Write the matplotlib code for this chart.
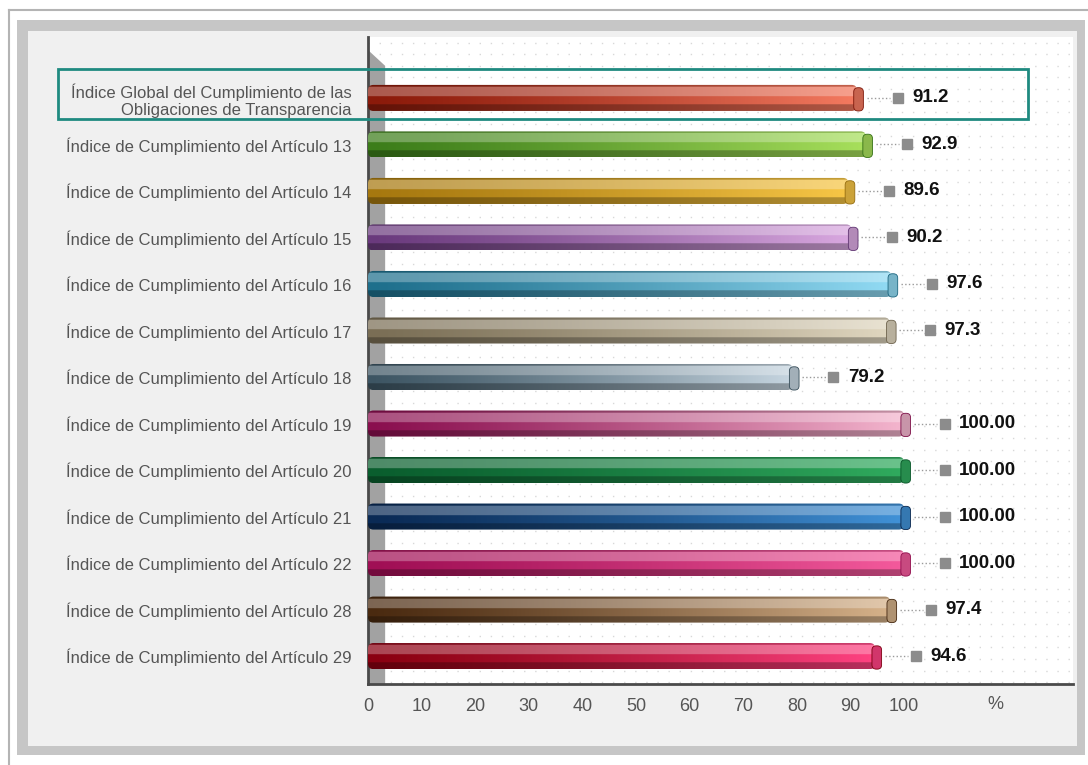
import numpy as np
import matplotlib.pyplot as plt
from matplotlib.patches import Rectangle, FancyBboxPatch, Polygon
from matplotlib.colors import to_rgb

W, H = 1088, 765

categorias = [
    'Índice Global del Cumplimiento de las\nObligaciones de Transparencia',
    'Índice de Cumplimiento del Artículo 13',
    'Índice de Cumplimiento del Artículo 14',
    'Índice de Cumplimiento del Artículo 15',
    'Índice de Cumplimiento del Artículo 16',
    'Índice de Cumplimiento del Artículo 17',
    'Índice de Cumplimiento del Artículo 18',
    'Índice de Cumplimiento del Artículo 19',
    'Índice de Cumplimiento del Artículo 20',
    'Índice de Cumplimiento del Artículo 21',
    'Índice de Cumplimiento del Artículo 22',
    'Índice de Cumplimiento del Artículo 28',
    'Índice de Cumplimiento del Artículo 29',
]
valores = [91.2, 92.9, 89.6, 90.2, 97.6, 97.3, 79.2, 100, 100, 100, 100, 97.4, 94.6]
etiquetas_valor = ['91.2', '92.9', '89.6', '90.2', '97.6', '97.3', '79.2',
                   '100.00', '100.00', '100.00', '100.00', '97.4', '94.6']
colores_oscuros = ['#8b1a0a', '#3c7d1a', '#a6780f', '#6a3a7d', '#1e6f8c', '#7a6e55',
                   '#3d5563', '#8a0f4f', '#0a5e2e', '#0a2a55', '#a00f55', '#4a2a10', '#8a0010']
colores_claros = ['#f47a60', '#a8e05c', '#f7c646', '#d9a8e0', '#92dbf4', '#e0d7c0',
                  '#c6d5e0', '#f4b6ce', '#30ab5e', '#4192d8', '#f45a9c', '#d6b28a', '#ff4282']
xticks = [0, 10, 20, 30, 40, 50, 60, 70, 80, 90, 100]


def fig_box(x0, y0, x1, y1):
    # pixel box (top-down) -> figure fraction
    return x0 / W, 1 - y1 / H, (x1 - x0) / W, (y1 - y0) / H


def bar_image(dark, light, n=256, m=40):
    d = np.array(to_rgb(dark))
    l = np.array(to_rgb(light))
    t = np.linspace(0, 1, n) ** 1.2
    base = d[None, :] + (l - d)[None, :] * t[:, None]
    img = np.repeat(base[None, :, :], m, axis=0)
    fy = np.linspace(0, 1, m)
    for i, f in enumerate(fy):
        if f < 0.1:
            img[i] *= 0.8
        elif f < 0.45:
            img[i] = img[i] + (1 - img[i]) * 0.28
        elif f > 0.75:
            img[i] *= 0.72
    return np.clip(img, 0, 1)


fig = plt.figure(figsize=(W / 100, H / 100), dpi=100)
fig.patch.set_facecolor('white')

# frame layers
fig.add_artist(Rectangle(fig_box(17, 20, 1085, 755)[:2], *fig_box(17, 20, 1085, 755)[2:],
                         transform=fig.transFigure, fc='#c6c6c6', ec='none', zorder=0))
fig.add_artist(Rectangle(fig_box(28, 31, 1077, 746)[:2], *fig_box(28, 31, 1077, 746)[2:],
                         transform=fig.transFigure, fc='#f0f0f0', ec='none', zorder=0))
fig.add_artist(plt.Line2D([9 / W, 1], [1 - 10 / H, 1 - 10 / H], transform=fig.transFigure,
                          color='#b4b4b4', lw=1.5, zorder=0))
fig.add_artist(plt.Line2D([9 / W, 9 / W], [0, 1 - 10 / H], transform=fig.transFigure,
                          color='#b4b4b4', lw=1.5, zorder=0))

ax = fig.add_axes(fig_box(368, 37, 1073, 684))
ax.set_facecolor('white')
ax.set_zorder(1)

y_top, y_bot = -1.31, 12.6
x_max = 131.5
h = 0.56

# left 3D wall
ax.add_patch(Polygon([(0, -1.03), (3.2, -0.69), (3.2, y_bot), (0, y_bot)],
                     closed=True, fc='#a2a2a2', ec='none', zorder=2))

for i, v in enumerate(valores):
    y = i
    img = bar_image(colores_oscuros[i], colores_claros[i])
    im = ax.imshow(img, extent=(0, v, y + h / 2, y - h / 2), aspect='auto',
                   interpolation='bilinear', zorder=3)
    clip = FancyBboxPatch((0, y - h / 2), v, h, boxstyle='round,pad=0,rounding_size=1.0',
                          mutation_aspect=0.115, fc='none', ec='none', transform=ax.transData)
    ax.add_patch(clip)
    im.set_clip_path(clip)
    cap = np.array(to_rgb(colores_claros[i])) * 0.82
    ax.add_patch(FancyBboxPatch((v - 0.6, y - h / 2 + 0.06), 1.8, h - 0.06,
                                boxstyle='round,pad=0,rounding_size=0.8', mutation_aspect=0.115,
                                fc=cap, ec=np.array(to_rgb(colores_oscuros[i])) * 0.9,
                                lw=0.6, zorder=4))
    ax.plot([v + 1.8, v + 6.2], [y, y], ls=':', color='#999999', lw=1, zorder=4)
    ax.plot(v + 7.6, y, 's', ms=7.5, color='#8c8c8c', zorder=4)
    ax.text(v + 10.3, y, etiquetas_valor[i], va='center', ha='left', fontsize=13.5,
            fontweight='bold', family='Liberation Sans', color='#111111', zorder=5)

ax.set_xlim(0, x_max)
ax.set_ylim(y_bot, y_top)

ax.set_xticks(xticks)
ax.set_xticklabels([str(t) for t in xticks])
ax.set_yticks(range(len(categorias)))
ax.set_yticklabels(categorias)
ax.tick_params(axis='x', length=0, pad=10, labelsize=13, labelcolor='#555555')
ax.tick_params(axis='y', length=0, pad=12, labelsize=12, labelcolor='#555555')
for lab in ax.get_xticklabels() + ax.get_yticklabels():
    lab.set_family('Liberation Sans')
ax.text(117, y_bot + 0.25, '%', ha='center', va='top', fontsize=13,
        color='#555555', family='Liberation Sans')

# dotted background grid
ax.set_yticks(np.arange(y_top + 0.12, y_bot, 0.25), minor=True)
ax.tick_params(axis='y', which='minor', length=0)
ax.grid(True, which='minor', axis='y', ls=(0, (1, 7)), color='#d8d8d8', lw=1, zorder=0)
ax.set_axisbelow(True)

for s in ['top', 'right']:
    ax.spines[s].set_visible(False)
ax.spines['left'].set_color('#4a4a4a')
ax.spines['left'].set_linewidth(2)
ax.spines['bottom'].set_color('#4a4a4a')
ax.spines['bottom'].set_linewidth(2)

# highlight box around the global index
fig.add_artist(Rectangle(fig_box(58, 69, 1028, 119)[:2], *fig_box(58, 69, 1028, 119)[2:],
                         transform=fig.transFigure, fill=False, ec='#1f8a80', lw=2, zorder=10))

fig.savefig('out.png', dpi=100)
